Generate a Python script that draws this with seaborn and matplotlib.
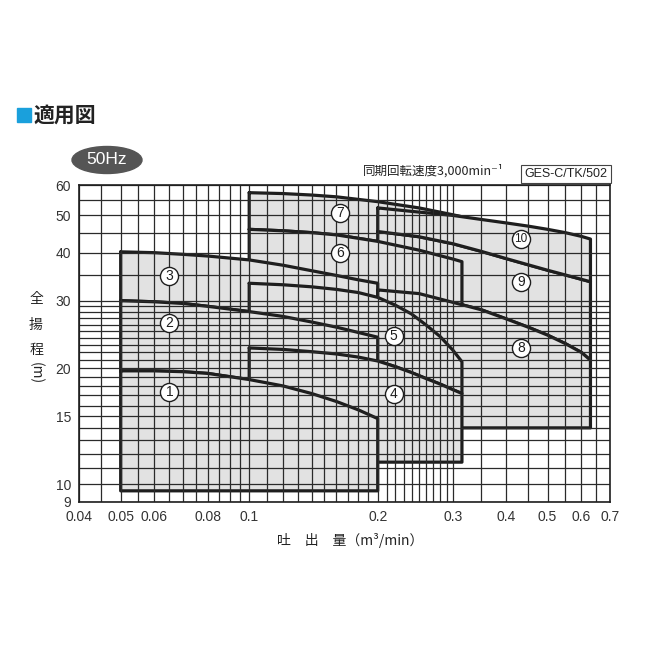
import numpy as np
import matplotlib
matplotlib.use("Agg")
import matplotlib.pyplot as plt
from matplotlib.patches import Ellipse, Rectangle
from matplotlib.ticker import NullLocator, FixedLocator
import seaborn as sns

sns.set_style("white")
plt.rcParams['font.family'] = ['Liberation Sans', 'Noto Sans CJK JP', 'DejaVu Sans']

# ---------------- data (flow m3/min, head m) ----------------
flow_A = [0.05, 0.06, 0.07, 0.08, 0.1, 0.12, 0.14, 0.16, 0.18, 0.2]
head_1 = [19.7, 19.7, 19.6, 19.4, 18.7, 18.0, 17.2, 16.4, 15.6, 14.8]
head_2 = [30.0, 29.8, 29.5, 29.0, 28.1, 27.3, 26.4, 25.6, 24.8, 24.1]
head_3 = [40.2, 40.0, 39.6, 39.2, 38.3, 37.1, 35.9, 34.9, 34.0, 33.3]
bottom_A = 9.6

flow_B = [0.1, 0.12, 0.14, 0.16, 0.18, 0.2, 0.22, 0.24, 0.26, 0.28, 0.3, 0.315]
head_4 = [22.6, 22.4, 22.1, 21.8, 21.4, 20.9, 20.2, 19.5, 18.8, 18.2, 17.6, 17.2]
head_5 = [33.3, 33.0, 32.6, 32.1, 31.5, 30.6, 29.2, 27.7, 25.9, 24.2, 22.3, 20.8]
bottom_B = 11.4

flow_C = [0.1, 0.12, 0.14, 0.16, 0.2, 0.25, 0.3, 0.315]
head_6 = [46.0, 45.6, 45.1, 44.5, 42.8, 40.6, 38.5, 37.9]
head_7 = [57.3, 57.0, 56.5, 55.9, 54.3, 52.3, 50.2, 49.6]
bottom_C = 28.0

flow_D = [0.2, 0.25, 0.3, 0.35, 0.4, 0.45, 0.5, 0.55, 0.6, 0.63]
head_8 = [32.0, 31.3, 29.7, 28.4, 26.9, 25.6, 24.4, 23.2, 22.0, 21.0]
head_9 = [45.4, 44.0, 42.2, 40.3, 38.6, 37.2, 36.0, 35.0, 34.1, 33.6]
head_10 = [52.3, 51.0, 50.0, 48.8, 47.8, 46.9, 46.0, 45.1, 44.1, 43.4]
bottom_D = 14.0

label_names = ["1", "2", "3", "4", "5", "6", "7", "8", "9", "10"]
label_flow = [0.065, 0.065, 0.065, 0.218, 0.218, 0.163, 0.163, 0.433, 0.433, 0.433]
label_head = [17.4, 26.2, 34.8, 17.2, 24.3, 40.0, 50.8, 22.6, 33.6, 43.5]

x_tick_vals = [0.04, 0.05, 0.06, 0.08, 0.1, 0.2, 0.3, 0.4, 0.5, 0.6, 0.7]
x_tick_text = ["0.04", "0.05", "0.06", "0.08", "0.1", "0.2", "0.3", "0.4", "0.5", "0.6", "0.7"]
y_tick_vals = [9, 10, 15, 20, 30, 40, 50, 60]
y_tick_text = ["9", "10", "15", "20", "30", "40", "50", "60"]

# ---------------- regions: (top flow, top head, bottom flow, bottom head or flat) ----
regions = {
    "R1": (flow_A, head_1, None, bottom_A),
    "R2": (flow_A, head_2, flow_A, head_1),
    "R3": (flow_A, head_3, flow_A, head_2),
    "R4": (flow_B, head_4, None, bottom_B),
    "R5": (flow_B, head_5, flow_B, head_4),
    "R6": (flow_C, head_6, None, bottom_C),
    "R7": (flow_C, head_7, flow_C, head_6),
    "R8": (flow_D, head_8, None, bottom_D),
    "R9": (flow_D, head_9, flow_D, head_8),
    "R10": (flow_D, head_10, flow_D, head_9),
}
draw_order = ["R7", "R9", "R10", "R6", "R3", "R8", "R5", "R2", "R4", "R1"]

W = H = 655
fig = plt.figure(figsize=(6.55, 6.55), dpi=100)
L, R, T, B = 79.3, 610.0, 185.0, 501.6
ax = fig.add_axes([L / W, 1 - B / H, (R - L) / W, (B - T) / H])
ax.set_xscale("log")
ax.set_yscale("log")
ax.set_xlim(0.04, 0.7)
ax.set_ylim(9, 60)

FILL = "#e2e2e2"
LINE = "#1e1e1e"

for i, name in enumerate(draw_order):
    tx, th, bx, bh = regions[name]
    if bx is None:
        px = list(tx) + [tx[-1], tx[0], tx[0]]
        py = list(th) + [bh, bh, th[0]]
    else:
        px = list(tx) + list(bx[::-1]) + [tx[0]]
        py = list(th) + list(bh[::-1]) + [th[0]]
    z = 2 + i
    ax.fill(px, py, color=FILL, lw=0, zorder=z)
    sns.lineplot(x=px, y=py, sort=False, estimator=None, color=LINE, lw=2.3,
                 zorder=z + 0.5, ax=ax, legend=False)

# grid
gx = list(np.arange(0.04, 0.1, 0.005)) + list(np.arange(0.1, 0.3, 0.01)) + list(np.arange(0.3, 0.701, 0.05))
gy = list(np.arange(9, 30, 1.0)) + list(np.arange(30, 60.1, 5.0))
for v in gx:
    ax.axvline(v, color="#2a2a2a", lw=0.9, zorder=40)
for v in gy:
    ax.axhline(v, color="#2a2a2a", lw=0.9, zorder=40)

# labels
ax.scatter(label_flow, label_head, s=170, facecolor="white", edgecolor="#1e1e1e",
           linewidths=1.0, zorder=60)
for n, fx_, fh in zip(label_names, label_flow, label_head):
    ax.text(fx_, fh, n, ha="center", va="center", fontsize=10 if len(n) == 1 else 8.5,
            color="#1e1e1e", zorder=61)

ax.xaxis.set_major_locator(FixedLocator(x_tick_vals))
ax.xaxis.set_minor_locator(NullLocator())
ax.set_xticklabels(x_tick_text)
ax.yaxis.set_major_locator(FixedLocator(y_tick_vals))
ax.yaxis.set_minor_locator(NullLocator())
ax.set_yticklabels(y_tick_text)
ax.tick_params(length=0, labelsize=10, colors="#333333")
ax.tick_params(axis="x", pad=6)
ax.tick_params(axis="y", pad=6)
for sp in ax.spines.values():
    sp.set_color("#1e1e1e")
    sp.set_linewidth(1.2)
    sp.set_zorder(70)

CJK = ["Noto Sans CJK JP", "DejaVu Sans"]

def fx(p):
    return p / W

def fy(p):
    return 1 - p / H

# header
fig.patches.append(Rectangle((fx(17), fy(122)), 14 / W, 14 / H, transform=fig.transFigure,
                             color="#1aa0dc", figure=fig))
fig.text(fx(33), fy(115), "適用図", family=CJK, fontsize=15, fontweight="bold",
         ha="left", va="center", color="#222222")

fig.patches.append(Ellipse((fx(107), fy(160)), 70 / W, 27 / H, transform=fig.transFigure,
                           color="#555555", figure=fig))
fig.text(fx(107), fy(160), "50Hz", fontsize=12.5, color="white", ha="center", va="center")

fig.text(fx(363), fy(171), "同期回転速度3,000min⁻¹", family=CJK, fontsize=9,
         ha="left", va="center", color="#222222")
fig.text(fx(566), fy(174), "GES-C/TK/502", fontsize=9, ha="center", va="center", color="#222222",
         bbox=dict(boxstyle="square,pad=0.25", facecolor="white", edgecolor="#444444", lw=0.8))

# axis labels
for ch, yy in zip(["全", "揚", "程"], [299, 325, 350]):
    fig.text(fx(36), fy(yy), ch, family=CJK, fontsize=10, ha="center", va="center", color="#222222")
fig.text(fx(36), fy(373), "(m)", family=CJK, fontsize=10, ha="center", va="center",
         rotation=-90, color="#222222")
fig.text(fx(350), fy(540), "吐　出　量（m³/min）", family=CJK, fontsize=10,
         ha="center", va="center", color="#222222")

fig.savefig("out.png", dpi=100)
